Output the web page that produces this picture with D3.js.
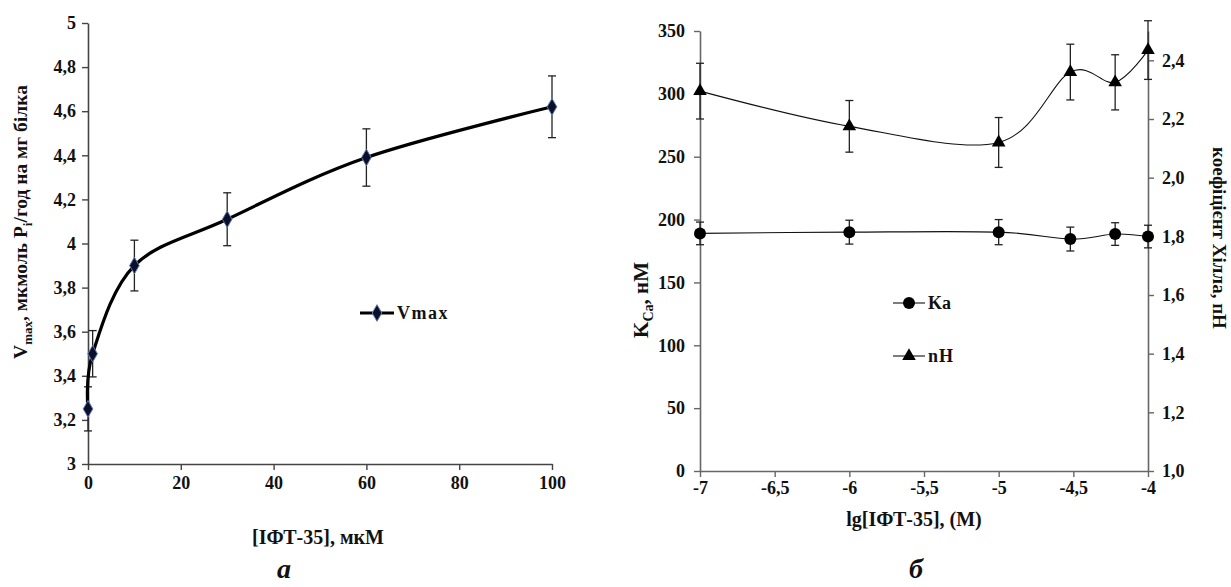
<!DOCTYPE html>
<html>
<head>
<meta charset="utf-8">
<script src="https://cdn.jsdelivr.net/npm/d3@7"></script>
<style>
  body { margin: 0; background: #fff; }
  text { font-family: 'Liberation Serif', 'Times New Roman', serif; font-weight: bold; fill: #111; }
</style>
</head>
<body>
<script>
// panel a: Vmax vs concentration
const concUm = [0, 1, 10, 30, 60, 100];
const vmax = [3.25, 3.5, 3.9, 4.11, 4.39, 4.62];
const vmaxErr = [0.1, 0.105, 0.115, 0.12, 0.13, 0.14];
const ticksA_x = [0, 20, 40, 60, 80, 100];
const ticksA_y = [3, 3.2, 3.4, 3.6, 3.8, 4, 4.2, 4.4, 4.6, 4.8, 5];

// panel б: Ka and nH vs lg concentration
const lgConc = [-7, -6, -5, -4.52, -4.22, -4];
const ka = [189, 190, 190, 184.5, 188.5, 186.5];
const kaErr = [9, 9.5, 10, 9.5, 9, 9];
const nH = [2.295, 2.175, 2.12, 2.36, 2.325, 2.435];
const nHErr = [0.095, 0.088, 0.085, 0.095, 0.094, 0.1];
const ticksB_x = [-7, -6.5, -6, -5.5, -5, -4.5, -4];
const ticksB_yL = [0, 50, 100, 150, 200, 250, 300, 350];
const ticksB_yR = [1.0, 1.2, 1.4, 1.6, 1.8, 2.0, 2.2, 2.4];

const comma = (d) => String(d).replace('.', ',');
const comma1 = (d) => d3.format('.1f')(d).replace('.', ',');

const svg = d3.select('body').append('svg')
  .attr('width', 1231)
  .attr('height', 587);

function styleAxis(g, color) {
  g.attr('font-family', null);
  g.select('.domain').attr('stroke', color).attr('stroke-width', 1.6);
  g.selectAll('.tick line').attr('stroke', color).attr('stroke-width', 1.4);
  g.selectAll('.tick text').style('font-size', '18px').attr('fill', '#111');
}

function errorBars(g, xs, ys, errs, x, y, cap) {
  xs.forEach((xv, i) => {
    const cx = x(xv);
    const y1 = y(ys[i] + errs[i]);
    const y2 = y(ys[i] - errs[i]);
    g.append('line').attr('x1', cx).attr('x2', cx).attr('y1', y1).attr('y2', y2);
    g.append('line').attr('x1', cx - cap).attr('x2', cx + cap).attr('y1', y1).attr('y2', y1);
    g.append('line').attr('x1', cx - cap).attr('x2', cx + cap).attr('y1', y2).attr('y2', y2);
  });
  g.attr('stroke', '#222').attr('stroke-width', 1.3);
}

// ---------- panel a ----------
const xA = d3.scaleLinear().domain([0, 100]).range([88, 552]);
const yA = d3.scaleLinear().domain([3, 5]).range([464, 23]);

svg.append('g')
  .attr('transform', `translate(0,${yA(3)})`)
  .call(d3.axisBottom(xA).tickValues(ticksA_x).tickSize(6).tickSizeOuter(0).tickPadding(6))
  .call((g) => styleAxis(g, '#444'));

svg.append('g')
  .attr('transform', `translate(${xA(0)},0)`)
  .call(d3.axisLeft(yA).tickValues(ticksA_y).tickFormat(comma).tickSize(6).tickSizeOuter(0).tickPadding(6))
  .call((g) => styleAxis(g, '#444'));

errorBars(svg.append('g'), concUm, vmax, vmaxErr, xA, yA, 4);

svg.append('path')
  .datum(concUm.map((c, i) => [c, vmax[i]]))
  .attr('fill', 'none')
  .attr('stroke', '#000')
  .attr('stroke-width', 3.2)
  .attr('d', d3.line().x((d) => xA(d[0])).y((d) => yA(d[1])).curve(d3.curveCardinal.tension(0)));

const diamond = d3.symbol().type(d3.symbolDiamond).size(80);
svg.append('g').selectAll('path')
  .data(concUm.map((c, i) => [c, vmax[i]]))
  .join('path')
  .attr('transform', (d) => `translate(${xA(d[0])},${yA(d[1])})`)
  .attr('d', diamond)
  .attr('fill', '#0c0f2a')
  .attr('stroke', '#5b7bb0')
  .attr('stroke-width', 1);

// legend a
svg.append('line').attr('x1', 360).attr('x2', 394).attr('y1', 313).attr('y2', 313)
  .attr('stroke', '#000').attr('stroke-width', 3.2);
svg.append('path').attr('transform', 'translate(377,313)').attr('d', diamond)
  .attr('fill', '#0c0f2a').attr('stroke', '#5b7bb0');
svg.append('text').attr('x', 397).attr('y', 319).style('font-size', '18px')
  .style('letter-spacing', '1.5px').text('Vmax');

// y title a
const tA = svg.append('text')
  .attr('transform', 'translate(27,222) rotate(-90)')
  .attr('text-anchor', 'middle')
  .style('font-size', '19.5px');
tA.append('tspan').text('V');
tA.append('tspan').attr('dy', 5).style('font-size', '13px').text('max');
tA.append('tspan').attr('dy', -5).text(', мкмоль P');
tA.append('tspan').attr('dy', 5).style('font-size', '13px').text('i');
tA.append('tspan').attr('dy', -5).text('/год на мг білка');

svg.append('text').attr('x', 318).attr('y', 544).attr('text-anchor', 'middle')
  .style('font-size', '20px').text('[ІФТ-35], мкМ');
svg.append('text').attr('x', 284).attr('y', 578).attr('text-anchor', 'middle')
  .style('font-size', '28px').style('font-style', 'italic').text('а');

// ---------- panel б ----------
const xB = d3.scaleLinear().domain([-7, -4]).range([700, 1148]);
const yL = d3.scaleLinear().domain([0, 350]).range([471, 31]);
const yR = d3.scaleLinear().domain([1.0, 2.5]).range([471, 31]);

svg.append('g')
  .attr('transform', `translate(0,${yL(0)})`)
  .call(d3.axisBottom(xB).tickValues(ticksB_x).tickFormat(comma).tickSize(6).tickSizeOuter(0).tickPadding(4))
  .call((g) => styleAxis(g, '#666'));

svg.append('g')
  .attr('transform', `translate(${xB(-7)},0)`)
  .call(d3.axisLeft(yL).tickValues(ticksB_yL).tickSize(6).tickSizeOuter(0).tickPadding(9))
  .call((g) => styleAxis(g, '#666'));

svg.append('g')
  .attr('transform', `translate(${xB(-4)},0)`)
  .call(d3.axisRight(yR).tickValues(ticksB_yR).tickFormat(comma1).tickSize(6).tickSizeOuter(0).tickPadding(8))
  .call((g) => styleAxis(g, '#666'));

errorBars(svg.append('g'), lgConc, ka, kaErr, xB, yL, 4);
errorBars(svg.append('g'), lgConc, nH, nHErr, xB, yR, 4);

const smooth = d3.curveCardinal.tension(0);
svg.append('path')
  .datum(lgConc.map((c, i) => [c, ka[i]]))
  .attr('fill', 'none').attr('stroke', '#111').attr('stroke-width', 1.1)
  .attr('d', d3.line().x((d) => xB(d[0])).y((d) => yL(d[1])).curve(smooth));
svg.append('path')
  .datum(lgConc.map((c, i) => [c, nH[i]]))
  .attr('fill', 'none').attr('stroke', '#111').attr('stroke-width', 1.1)
  .attr('d', d3.line().x((d) => xB(d[0])).y((d) => yR(d[1])).curve(smooth));

svg.append('g').selectAll('circle')
  .data(lgConc.map((c, i) => [c, ka[i]]))
  .join('circle')
  .attr('cx', (d) => xB(d[0])).attr('cy', (d) => yL(d[1])).attr('r', 6)
  .attr('fill', '#000');

const tri = d3.symbol().type(d3.symbolTriangle).size(80);
svg.append('g').selectAll('path')
  .data(lgConc.map((c, i) => [c, nH[i]]))
  .join('path')
  .attr('transform', (d) => `translate(${xB(d[0])},${yR(d[1])})`)
  .attr('d', tri)
  .attr('fill', '#000');

// legend б
svg.append('line').attr('x1', 893).attr('x2', 925).attr('y1', 303).attr('y2', 303)
  .attr('stroke', '#111').attr('stroke-width', 1.1);
svg.append('circle').attr('cx', 909).attr('cy', 303).attr('r', 6).attr('fill', '#000');
svg.append('text').attr('x', 928).attr('y', 309).style('font-size', '18px').text('Ka');

svg.append('line').attr('x1', 893).attr('x2', 925).attr('y1', 356).attr('y2', 356)
  .attr('stroke', '#111').attr('stroke-width', 1.1);
svg.append('path').attr('transform', 'translate(909,356)').attr('d', tri).attr('fill', '#000');
svg.append('text').attr('x', 928).attr('y', 362).style('font-size', '18px')
  .style('letter-spacing', '1px').text('nH');

// titles б
const tL = svg.append('text')
  .attr('transform', 'translate(648,300) rotate(-90)')
  .attr('text-anchor', 'middle')
  .style('font-size', '21px');
tL.append('tspan').text('K');
tL.append('tspan').attr('dy', 5).style('font-size', '14px').text('Ca');
tL.append('tspan').attr('dy', -5).text(', нМ');

svg.append('text')
  .attr('transform', 'translate(1213,238) rotate(90)')
  .attr('text-anchor', 'middle')
  .style('font-size', '19px')
  .text('коефіцієнт Хілла, пН');

svg.append('text').attr('x', 914).attr('y', 526).attr('text-anchor', 'middle')
  .style('font-size', '20px').text('lg[ІФТ-35], (М)');
svg.append('text').attr('x', 916).attr('y', 578).attr('text-anchor', 'middle')
  .style('font-size', '28px').style('font-style', 'italic').text('б');
</script>
</body>
</html>
